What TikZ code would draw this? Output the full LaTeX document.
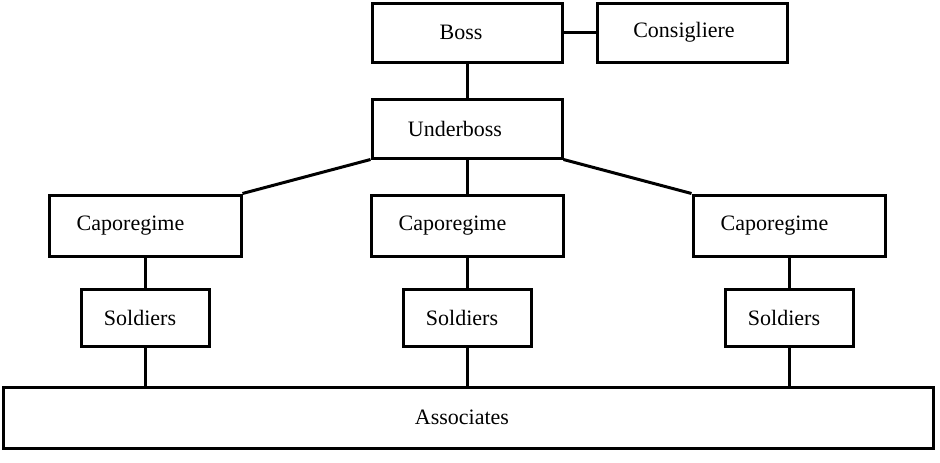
\documentclass[tikz,border=0pt]{standalone}
\usepackage{fontspec}
\setmainfont{Liberation Serif}
\usetikzlibrary{positioning}

\tikzset{
  rank/.style={draw,line width=3pt,rectangle,inner sep=0pt,
    font=\fontsize{22}{26}\selectfont,
    minimum width=190pt,minimum height=59pt},
  wide/.style={rank,minimum width=192pt,minimum height=61pt},
  squad/.style={rank,minimum width=128pt,minimum height=57pt},
  tie/.style={line width=3pt}
}

\begin{document}
\begin{tikzpicture}[x=1pt,y=-1pt]
\useasboundingbox (0,0) rectangle (940,463);
\node[rank] (boss) at (467,32.5) {\hspace*{-12pt}Boss};
\node[rank] (consig) at (692,32.5) {\hspace*{-16pt}Consigliere};
\node[rank] (under) at (467,128.5) {\hspace*{-24pt}Underboss};
\node[rank,minimum width=930pt,minimum height=61pt] (assoc) at (468,417.5) {\hspace*{-12pt}Associates};
\foreach \x/\i in {145/1,467/2,789/3}{
  \node[wide] (cap\i) at (\x,225.5) {\hspace*{-29pt}Caporegime};
  \node[squad] (sold\i) at (\x,317.5) {\hspace*{-10pt}Soldiers};
  \draw[tie] (cap\i.south) -- (sold\i.north);
  \draw[tie] (sold\i.south) -- (sold\i.south |- assoc.north);
}
\draw[tie] (boss.east) -- (consig.west);
\draw[tie] (boss.south) -- (under.north);
\draw[tie] (under.south) -- (cap2.north);
\draw[tie] (under.south west) -- (cap1.north east);
\draw[tie] (under.south east) -- (cap3.north west);
\end{tikzpicture}
\end{document}
